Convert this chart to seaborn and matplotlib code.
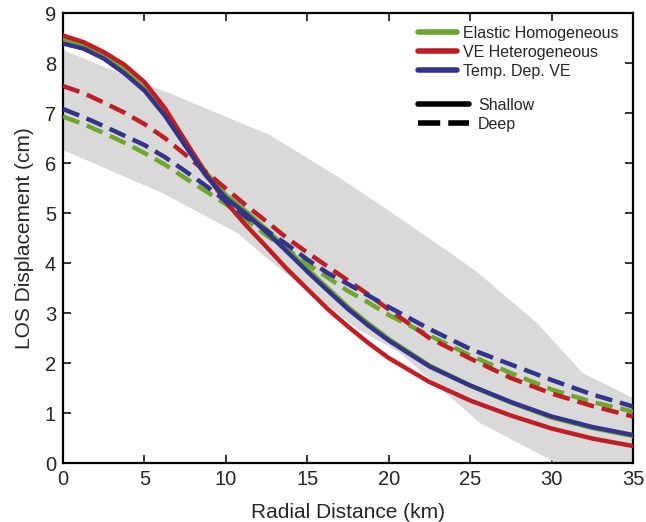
import numpy as np
import pandas as pd
import seaborn as sns
import matplotlib.pyplot as plt
from matplotlib.lines import Line2D

# radial distance (km) where curves were read
r_km = [0, 1.25, 2.5, 3.75, 5, 6.25, 7.5, 8.75, 10, 11.25, 12.5, 13.75, 15,
        16.25, 17.5, 18.75, 20, 22.5, 25, 27.5, 30, 32.5, 35]

# LOS displacement (cm), shallow source
elastic_shallow = [8.47, 8.36, 8.15, 7.86, 7.5, 7.0, 6.42, 5.82, 5.36, 5.03, 4.67, 4.28, 3.88,
                   3.5, 3.12, 2.79, 2.48, 1.95, 1.55, 1.21, 0.91, 0.7, 0.54]
vehet_shallow = [8.55, 8.42, 8.22, 7.97, 7.62, 7.1, 6.45, 5.8, 5.22, 4.75, 4.32, 3.88, 3.48,
                 3.08, 2.73, 2.4, 2.1, 1.62, 1.25, 0.95, 0.69, 0.49, 0.34]
tempve_shallow = [8.39, 8.29, 8.09, 7.8, 7.45, 6.95, 6.35, 5.76, 5.3, 4.98, 4.62, 4.23, 3.83,
                  3.45, 3.08, 2.75, 2.45, 1.93, 1.55, 1.22, 0.93, 0.72, 0.56]

# deep source
elastic_deep = [6.93, 6.78, 6.6, 6.41, 6.2, 5.97, 5.7, 5.44, 5.18, 4.87, 4.55, 4.28, 3.98,
                3.71, 3.44, 3.21, 2.96, 2.55, 2.15, 1.8, 1.47, 1.22, 1.03]
vehet_deep = [7.54, 7.4, 7.21, 7.01, 6.78, 6.5, 6.17, 5.83, 5.49, 5.15, 4.83, 4.5, 4.21,
              3.93, 3.65, 3.37, 3.07, 2.5, 2.09, 1.7, 1.39, 1.14, 0.93]
tempve_deep = [7.08, 6.92, 6.74, 6.55, 6.36, 6.12, 5.84, 5.55, 5.24, 4.92, 4.65, 4.37, 4.07,
               3.8, 3.58, 3.35, 3.12, 2.68, 2.28, 1.97, 1.66, 1.37, 1.13]

# grey data envelope (upper and lower edges)
band_up_x = [0, 3.3, 6.8, 12.7, 17, 20, 24, 25.5, 29.1, 31.9, 35]
band_up_y = [8.26, 7.82, 7.36, 6.56, 5.7, 5.05, 4.15, 3.8, 2.8, 1.8, 1.3]
band_lo_x = [0, 6.1, 10.7, 12.5, 15, 18, 20.7, 25.6, 30.3, 35]
band_lo_y = [6.26, 5.4, 4.6, 4.1, 3.45, 2.7, 2.2, 0.8, 0.0, 0.0]

models = ["Elastic Homogeneous", "VE Heterogeneous", "Temp. Dep. VE"]
colors = {"Elastic Homogeneous": "#6fa62d", "VE Heterogeneous": "#be1e24", "Temp. Dep. VE": "#33338c"}

series = {("Elastic Homogeneous", "Shallow"): elastic_shallow,
          ("VE Heterogeneous", "Shallow"): vehet_shallow,
          ("Temp. Dep. VE", "Shallow"): tempve_shallow,
          ("Elastic Homogeneous", "Deep"): elastic_deep,
          ("VE Heterogeneous", "Deep"): vehet_deep,
          ("Temp. Dep. VE", "Deep"): tempve_deep}
rows = []
for (m, d), vals in series.items():
    for x, v in zip(r_km, vals):
        rows.append({"r": x, "los": v, "model": m, "depth": d})
df = pd.DataFrame(rows)

sns.set_style("ticks")
plt.rcParams['font.family'] = ['Liberation Sans', 'DejaVu Sans']

fig, ax = plt.subplots(figsize=(6.46, 5.22), dpi=100)
fig.subplots_adjust(left=0.0975, right=0.98, bottom=0.113, top=0.975)

ax.fill(np.r_[band_up_x, band_lo_x[::-1]], np.r_[band_up_y, band_lo_y[::-1]],
        color="#d9d9d9", lw=0, zorder=1)

sns.lineplot(data=df, x="r", y="los", hue="model", style="depth",
             palette=colors, dashes={"Shallow": "", "Deep": (3.9, 1.8)},
             hue_order=models, style_order=["Deep", "Shallow"],
             lw=3.2, legend=False, ax=ax, zorder=3, estimator=None, sort=True)

ax.set_xlim(0, 35)
ax.set_ylim(0, 9)
ax.set_xticks(range(0, 36, 5))
ax.set_yticks(range(0, 10))
ax.tick_params(direction="in", length=6, width=1.3, labelsize=14.5, top=True, right=True, pad=5)
for s in ax.spines.values():
    s.set_linewidth(1.6)
    s.set_color("black")
ax.set_xlabel("Radial Distance (km)", fontsize=15, labelpad=10)
ax.set_ylabel("LOS Displacement (cm)", fontsize=15, labelpad=8)

h1 = [Line2D([], [], color=colors[m], lw=4) for m in models]
leg1 = ax.legend(h1, models, loc="upper left", bbox_to_anchor=(0.623, 0.972),
                 frameon=False, fontsize=11.5, handlelength=2.45, handletextpad=0.33,
                 labelspacing=0.25, borderpad=0, borderaxespad=0)
ax.add_artist(leg1)
h2 = [Line2D([], [], color="black", lw=4),
      Line2D([], [], color="black", lw=4, dashes=(4.0, 1.45))]
ax.legend(h2, ["Shallow", "Deep"], loc="upper left", bbox_to_anchor=(0.623, 0.812),
          frameon=False, fontsize=11.5, handlelength=3.2, handletextpad=0.55,
          labelspacing=0.25, borderpad=0, borderaxespad=0)

plt.savefig("out.png", dpi=100)
